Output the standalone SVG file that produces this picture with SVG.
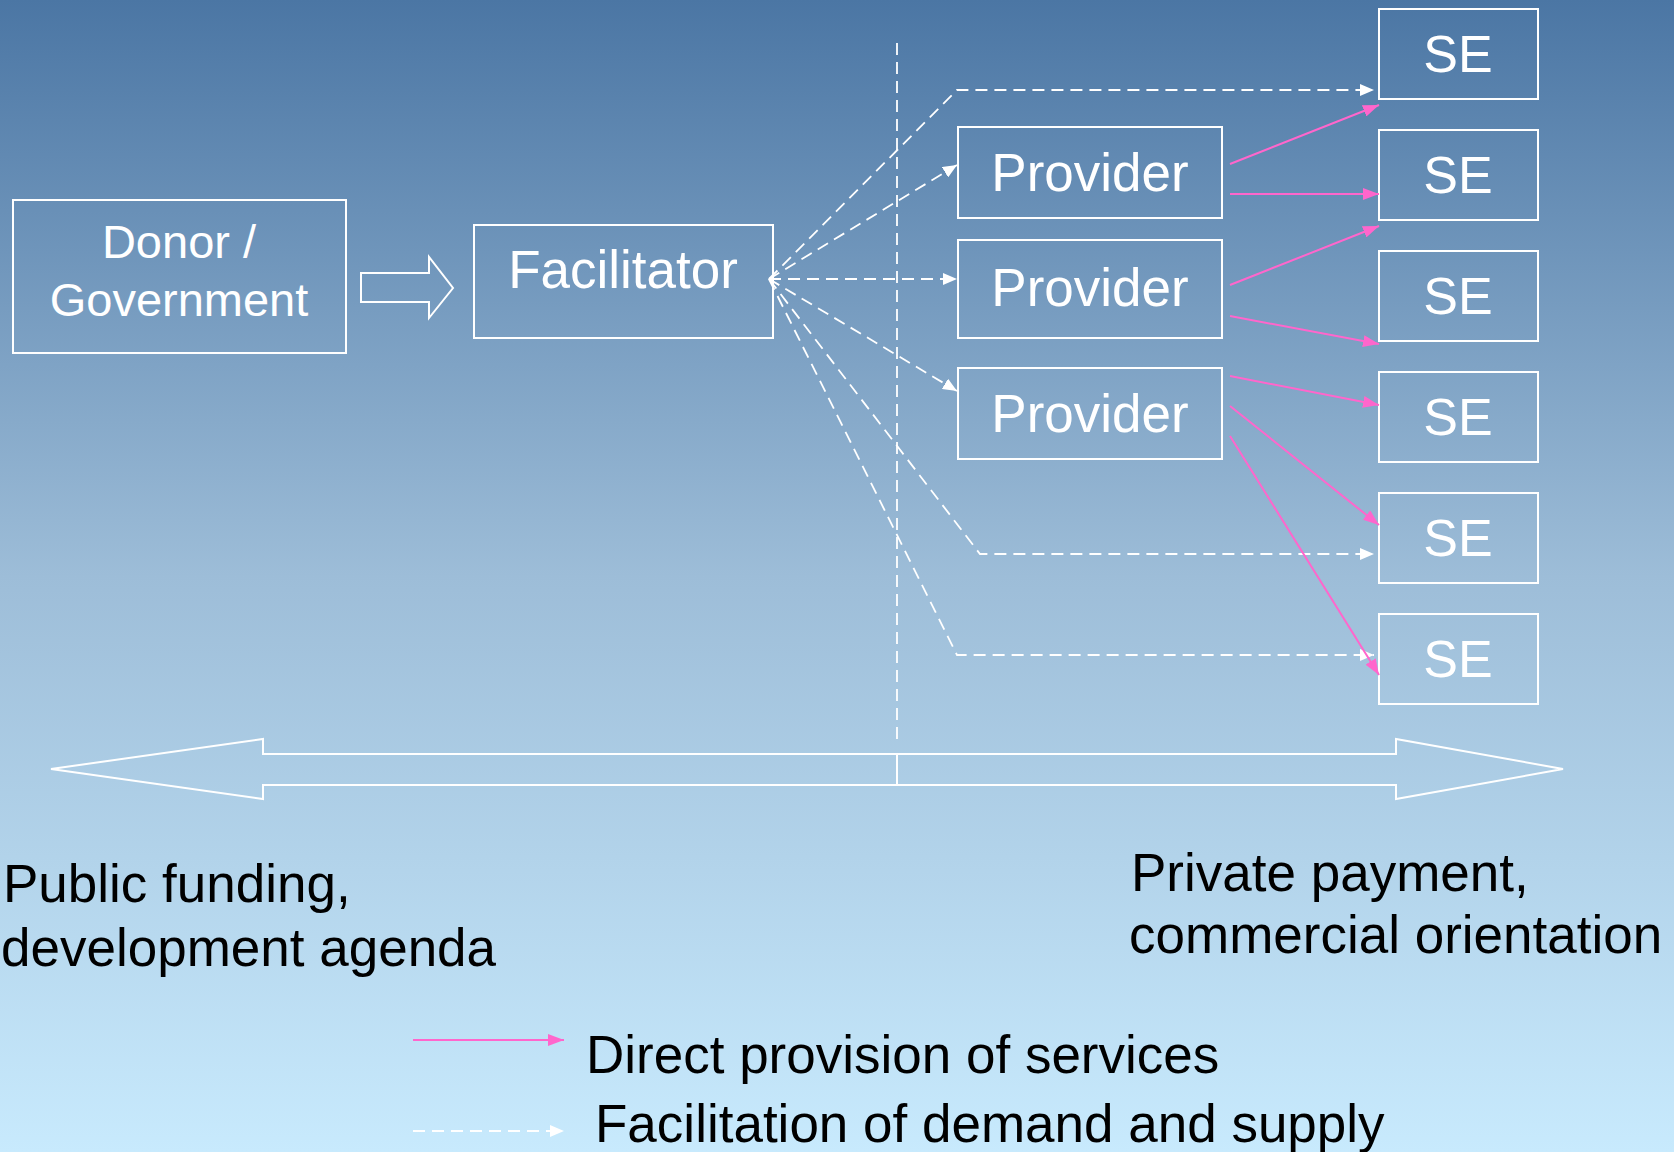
<svg xmlns="http://www.w3.org/2000/svg" width="1674" height="1152" viewBox="0 0 1674 1152">
<defs>
<linearGradient id="bg" x1="0" y1="0" x2="0" y2="1">
<stop offset="0" stop-color="#4b76a4"/>
<stop offset="0.5" stop-color="#9dbdd8"/>
<stop offset="1" stop-color="#c8eafd"/>
</linearGradient>
<marker id="mp" markerUnits="userSpaceOnUse" markerWidth="17" markerHeight="12" refX="16" refY="6" orient="auto">
<path d="M0,0 L16,6 L0,12 z" fill="#ff66cc"/>
</marker>
<marker id="mw" markerUnits="userSpaceOnUse" markerWidth="15" markerHeight="12" refX="14" refY="6" orient="auto">
<path d="M0,0 L14,6 L0,12 z" fill="#ffffff"/>
</marker>
</defs>
<style>
.box{fill:none;stroke:#ffffff;stroke-width:2}
.wt{font-family:"Liberation Sans",Arial,sans-serif;fill:#ffffff;text-anchor:middle}
.bt{font-family:"Liberation Sans",Arial,sans-serif;fill:#000000;font-size:53px}
.dash{fill:none;stroke:#ffffff;stroke-width:1.8;stroke-dasharray:12,7}
.pink{fill:none;stroke:#ff66cc;stroke-width:2}
</style>
<rect x="0" y="0" width="1674" height="1152" fill="url(#bg)"/>

<g id="divider">
<line x1="897" y1="43" x2="897" y2="739" class="dash"/>
</g>

<g id="donor">
<rect class="box" x="13" y="200" width="333" height="153"/>
<text class="wt" x="179" y="258" font-size="47">Donor /</text>
<text class="wt" x="179" y="316" font-size="47">Government</text>
</g>
<g id="hollow-arrow">
<polygon points="361,273 429,273 429,257 453,288 429,318 429,302 361,302" fill="none" stroke="#ffffff" stroke-width="2"/>
</g>
<g id="facilitator">
<rect class="box" x="474" y="225" width="299" height="113"/>
<text class="wt" x="623" y="288" font-size="53">Facilitator</text>
</g>
<g id="provider1">
<rect class="box" x="958" y="127" width="264" height="91"/>
<text class="wt" x="1090" y="191" font-size="53">Provider</text>
</g>
<g id="provider2">
<rect class="box" x="958" y="240" width="264" height="98"/>
<text class="wt" x="1090" y="306" font-size="53">Provider</text>
</g>
<g id="provider3">
<rect class="box" x="958" y="368" width="264" height="91"/>
<text class="wt" x="1090" y="432" font-size="53">Provider</text>
</g>
<g id="se1"><rect class="box" x="1379" y="9" width="159" height="90"/><text class="wt" x="1458" y="72" font-size="52">SE</text></g>
<g id="se2"><rect class="box" x="1379" y="130" width="159" height="90"/><text class="wt" x="1458" y="193" font-size="52">SE</text></g>
<g id="se3"><rect class="box" x="1379" y="251" width="159" height="90"/><text class="wt" x="1458" y="314" font-size="52">SE</text></g>
<g id="se4"><rect class="box" x="1379" y="372" width="159" height="90"/><text class="wt" x="1458" y="435" font-size="52">SE</text></g>
<g id="se5"><rect class="box" x="1379" y="493" width="159" height="90"/><text class="wt" x="1458" y="556" font-size="52">SE</text></g>
<g id="se6"><rect class="box" x="1379" y="614" width="159" height="90"/><text class="wt" x="1458" y="677" font-size="52">SE</text></g>

<g id="connectors">
<polyline class="dash" points="769,279 957,90 1374,90" marker-end="url(#mw)"/>
<line class="dash" x1="769" y1="279" x2="957" y2="165" marker-end="url(#mw)"/>
<line class="dash" x1="769" y1="279" x2="957" y2="279" marker-end="url(#mw)"/>
<line class="dash" x1="769" y1="279" x2="957" y2="391" marker-end="url(#mw)"/>
<polyline class="dash" points="769,279 980,554 1374,554" marker-end="url(#mw)"/>
<polyline class="dash" points="769,279 957,655 1374,655" marker-end="url(#mw)"/>
<line class="pink" x1="1230" y1="164" x2="1379" y2="105" marker-end="url(#mp)"/>
<line class="pink" x1="1230" y1="194" x2="1379" y2="194" marker-end="url(#mp)"/>
<line class="pink" x1="1230" y1="285" x2="1379" y2="226" marker-end="url(#mp)"/>
<line class="pink" x1="1230" y1="316" x2="1379" y2="344" marker-end="url(#mp)"/>
<line class="pink" x1="1230" y1="376" x2="1379" y2="405" marker-end="url(#mp)"/>
<line class="pink" x1="1230" y1="406" x2="1379" y2="525" marker-end="url(#mp)"/>
<line class="pink" x1="1230" y1="436" x2="1379" y2="675" marker-end="url(#mp)"/>
</g>

<g id="spectrum">
<polygon points="51,769 263,739 263,754 1396,754 1396,739 1563,769 1396,799 1396,785 263,785 263,799" fill="none" stroke="#ffffff" stroke-width="2"/>
<line x1="897" y1="754" x2="897" y2="785" stroke="#ffffff" stroke-width="2"/>
</g>

<g id="labels">
<text class="bt" x="3" y="902">Public funding,</text>
<text class="bt" x="1" y="966">development agenda</text>
<text class="bt" x="1131" y="891">Private payment,</text>
<text class="bt" x="1129" y="953">commercial orientation</text>
</g>

<g id="legend">
<line class="pink" x1="413" y1="1040" x2="564" y2="1040" marker-end="url(#mp)"/>
<text class="bt" x="586" y="1073">Direct provision of services</text>
<line class="dash" x1="413" y1="1131" x2="564" y2="1131" marker-end="url(#mw)"/>
<text class="bt" x="595" y="1142">Facilitation of demand and supply</text>
</g>
</svg>
